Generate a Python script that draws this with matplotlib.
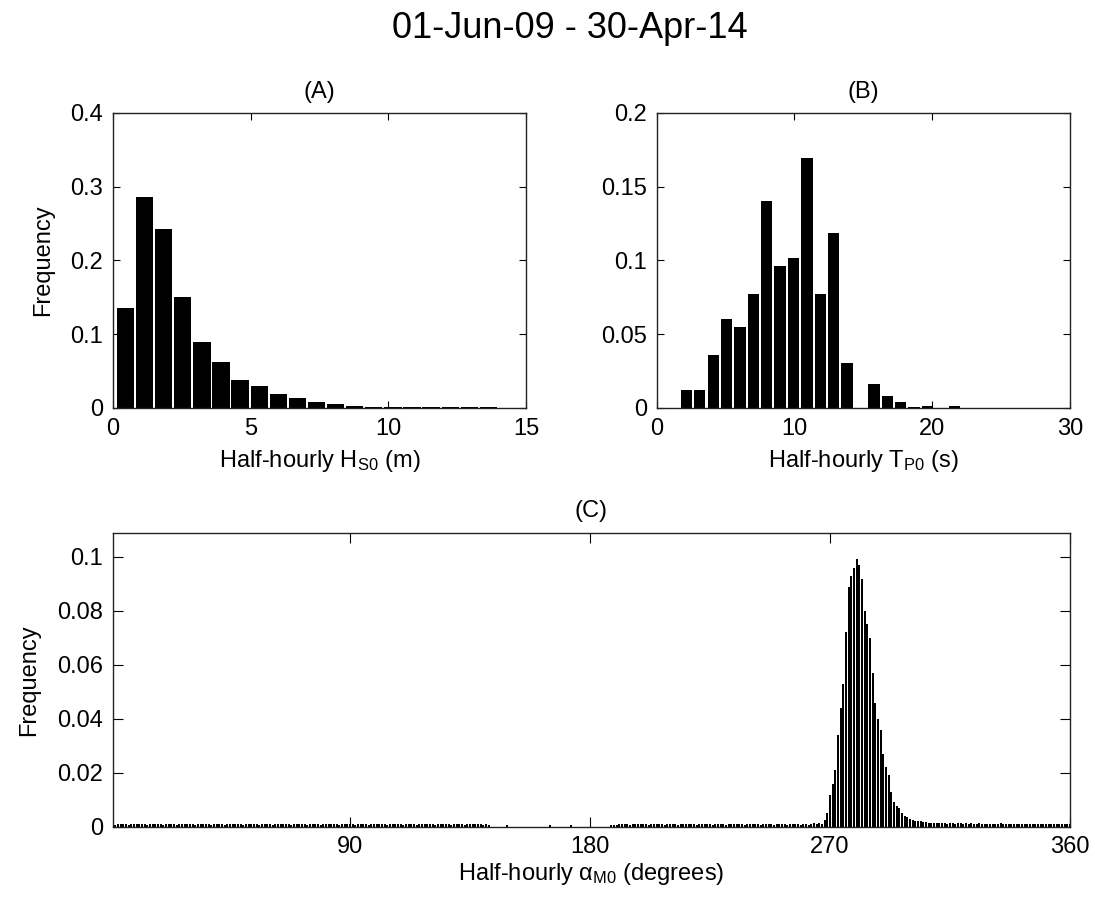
import matplotlib
matplotlib.use("Agg")
import matplotlib.pyplot as plt
from matplotlib.ticker import FormatStrFormatter

plt.rcParams['font.family'] = ['Liberation Sans', 'DejaVu Sans']
plt.rcParams['mathtext.fontset'] = 'custom'
plt.rcParams['mathtext.rm'] = 'Liberation Sans'
plt.rcParams['mathtext.it'] = 'Liberation Sans'

# (A) significant wave height histogram
hs_centers = [0.45, 1.14, 1.84, 2.53, 3.23, 3.92, 4.61, 5.31, 6.00, 6.70,
              7.39, 8.08, 8.78, 9.47, 10.17, 10.86, 11.55, 12.25, 12.94, 13.64]
hs_freq = [0.135, 0.286, 0.242, 0.151, 0.089, 0.063, 0.038, 0.030, 0.019, 0.0136,
           0.0086, 0.0059, 0.0024, 0.0019, 0.0016, 0.0014, 0.0012, 0.0010, 0.0008, 0.0007]

# (B) peak period histogram
tp_centers = [2.15, 3.12, 4.10, 5.07, 6.04, 7.01, 7.99, 8.96, 9.93, 10.90,
              11.88, 12.85, 13.82, 14.79, 15.77, 16.74, 17.71, 18.68, 19.66, 20.63, 21.60]
tp_freq = [0.0124, 0.0124, 0.0357, 0.0606, 0.0551, 0.0771, 0.1406, 0.0965, 0.1019, 0.1697,
           0.0771, 0.1184, 0.0303, 0.0, 0.0165, 0.0084, 0.0043, 0.0004, 0.0012, 0.0002, 0.0014]

# (C) mean direction histogram, 1-degree bins
dir_centers = list(range(1, 361))
dir_freq = [
    # 1-140
    0.0010, 0.0008, 0.0010, 0.0009, 0.0011, 0.0010, 0.0008, 0.0010, 0.0009, 0.0010,
    0.0011, 0.0009, 0.0010, 0.0008, 0.0010, 0.0010, 0.0009, 0.0011, 0.0010, 0.0008,
    0.0010, 0.0009, 0.0011, 0.0010, 0.0008, 0.0010, 0.0009, 0.0010, 0.0011, 0.0009,
    0.0010, 0.0008, 0.0010, 0.0010, 0.0009, 0.0011, 0.0010, 0.0008, 0.0010, 0.0009,
    0.0011, 0.0010, 0.0008, 0.0010, 0.0009, 0.0010, 0.0011, 0.0009, 0.0010, 0.0008,
    0.0010, 0.0010, 0.0009, 0.0011, 0.0010, 0.0008, 0.0010, 0.0009, 0.0011, 0.0010,
    0.0008, 0.0010, 0.0009, 0.0010, 0.0011, 0.0009, 0.0010, 0.0008, 0.0010, 0.0010,
    0.0009, 0.0011, 0.0010, 0.0008, 0.0010, 0.0009, 0.0011, 0.0010, 0.0008, 0.0010,
    0.0009, 0.0010, 0.0011, 0.0009, 0.0010, 0.0008, 0.0010, 0.0010, 0.0009, 0.0011,
    0.0010, 0.0008, 0.0010, 0.0009, 0.0011, 0.0010, 0.0008, 0.0010, 0.0009, 0.0010,
    0.0011, 0.0009, 0.0010, 0.0008, 0.0010, 0.0010, 0.0009, 0.0011, 0.0010, 0.0008,
    0.0010, 0.0009, 0.0011, 0.0010, 0.0008, 0.0010, 0.0009, 0.0010, 0.0011, 0.0009,
    0.0010, 0.0008, 0.0010, 0.0010, 0.0009, 0.0011, 0.0010, 0.0008, 0.0010, 0.0009,
    0.0011, 0.0010, 0.0008, 0.0010, 0.0009, 0.0010, 0.0011, 0.0009, 0.0010, 0.0008,
    # 141-190
    0.0009, 0.0007, 0.0, 0.0, 0.0, 0.0, 0.0, 0.0, 0.0006, 0.0,
    0.0, 0.0, 0.0, 0.0, 0.0, 0.0, 0.0, 0.0, 0.0, 0.0,
    0.0, 0.0, 0.0, 0.0, 0.0005, 0.0, 0.0, 0.0, 0.0, 0.0,
    0.0, 0.0, 0.0006, 0.0, 0.0, 0.0, 0.0, 0.0, 0.0, 0.0,
    0.0, 0.0, 0.0, 0.0, 0.0, 0.0, 0.0, 0.0006, 0.0008, 0.0007,
    # 191-260
    0.0010, 0.0009, 0.0011, 0.0010, 0.0008, 0.0010, 0.0009, 0.0010, 0.0011, 0.0009,
    0.0010, 0.0008, 0.0010, 0.0010, 0.0009, 0.0011, 0.0010, 0.0008, 0.0010, 0.0009,
    0.0011, 0.0010, 0.0008, 0.0010, 0.0009, 0.0010, 0.0011, 0.0009, 0.0010, 0.0008,
    0.0010, 0.0010, 0.0009, 0.0011, 0.0010, 0.0008, 0.0010, 0.0009, 0.0011, 0.0010,
    0.0008, 0.0010, 0.0009, 0.0010, 0.0011, 0.0009, 0.0010, 0.0008, 0.0010, 0.0010,
    0.0009, 0.0011, 0.0010, 0.0008, 0.0010, 0.0009, 0.0011, 0.0010, 0.0008, 0.0010,
    0.0010, 0.0009, 0.0011, 0.0008, 0.0010, 0.0009, 0.0010, 0.0011, 0.0008, 0.0010,
    # 261-310
    0.0009, 0.0008, 0.0010, 0.0012, 0.0010, 0.0013, 0.0011, 0.0025, 0.0050, 0.0117,
    0.0160, 0.0210, 0.0340, 0.0440, 0.0530, 0.0720, 0.0890, 0.0930, 0.0960, 0.0993,
    0.0970, 0.0920, 0.0800, 0.0750, 0.0700, 0.0570, 0.0460, 0.0400, 0.0360, 0.0270,
    0.0220, 0.0190, 0.0130, 0.0090, 0.0075, 0.0068, 0.0050, 0.0040, 0.0037, 0.0030,
    0.0025, 0.0022, 0.0020, 0.0021, 0.0018, 0.0016, 0.0015, 0.0014, 0.0015, 0.0013,
    # 311-360
    0.0012, 0.0013, 0.0012, 0.0011, 0.0012, 0.0013, 0.0011, 0.0012, 0.0012, 0.0011,
    0.0012, 0.0011, 0.0012, 0.0010, 0.0011, 0.0012, 0.0010, 0.0011, 0.0011, 0.0010,
    0.0011, 0.0010, 0.0011, 0.0012, 0.0010, 0.0011, 0.0010, 0.0011, 0.0010, 0.0011,
    0.0010, 0.0011, 0.0010, 0.0009, 0.0011, 0.0010, 0.0010, 0.0011, 0.0009, 0.0010,
    0.0010, 0.0009, 0.0011, 0.0010, 0.0010, 0.0009, 0.0010, 0.0011, 0.0010, 0.0009,
]

fig = plt.figure(figsize=(10.95, 9.05), dpi=100)
ax_a = fig.add_axes([0.1032, 0.5492, 0.3772, 0.3260])
ax_b = fig.add_axes([0.5997, 0.5492, 0.3775, 0.3260])
ax_c = fig.add_axes([0.1029, 0.0865, 0.8743, 0.3249])

fs = 17

ax_a.bar(hs_centers, hs_freq, width=0.63, color='k', linewidth=0)
ax_a.set_xlim(0, 15)
ax_a.set_ylim(0, 0.4)
ax_a.set_xticks([0, 5, 10, 15])
ax_a.set_yticks([0, 0.1, 0.2, 0.3, 0.4])
ax_a.set_title('(A)', fontsize=fs, pad=11)
ax_a.set_xlabel(r'Half-hourly H$_{\mathrm{S0}}$ (m)', fontsize=fs, labelpad=6)
ax_a.set_ylabel('Frequency', fontsize=fs, labelpad=12)

ax_b.bar(tp_centers, tp_freq, width=0.82, color='k', linewidth=0)
ax_b.set_xlim(0, 30)
ax_b.set_ylim(0, 0.2)
ax_b.set_xticks([0, 10, 20, 30])
ax_b.set_yticks([0, 0.05, 0.1, 0.15, 0.2])
ax_b.set_title('(B)', fontsize=fs, pad=11)
ax_b.set_xlabel(r'Half-hourly T$_{\mathrm{P0}}$ (s)', fontsize=fs, labelpad=6)

ax_c.bar(dir_centers, dir_freq, width=0.8, color='k', linewidth=0, antialiased=False)
ax_c.set_xlim(1, 360)
ax_c.set_ylim(0, 0.109)
ax_c.set_xticks([90, 180, 270, 360])
ax_c.set_yticks([0, 0.02, 0.04, 0.06, 0.08, 0.1])
ax_c.set_title('(C)', fontsize=fs, pad=11)
ax_c.set_xlabel(r'Half-hourly $\alpha_{\mathrm{M0}}$ (degrees)', fontsize=fs, labelpad=2)
ax_c.set_ylabel('Frequency', fontsize=fs, labelpad=12)

for ax, tl in [(ax_a, 5), (ax_b, 5), (ax_c, 7)]:
    ax.tick_params(direction='in', top=True, right=True, length=tl, width=0.8,
                   labelsize=fs)
    ax.tick_params(axis='x', pad=7)
    ax.tick_params(axis='y', pad=7)
    ax.yaxis.set_major_formatter(FormatStrFormatter('%g'))
    for s in ax.spines.values():
        s.set_linewidth(1.0)
        s.set_color('#222222')

fig.text(0.5205, 0.968, '01-Jun-09 - 30-Apr-14', fontsize=26, ha='center', va='center')

fig.savefig('out.png', dpi=100)
